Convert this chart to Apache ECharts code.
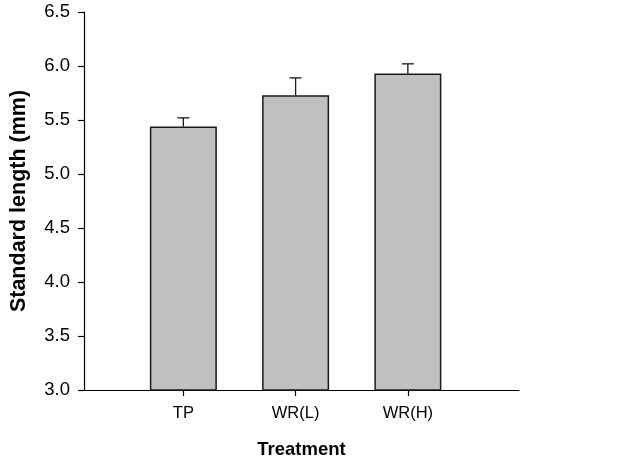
<!DOCTYPE html>
<html>
<head>
<meta charset="utf-8">
<script src="https://cdn.jsdelivr.net/npm/echarts@6/dist/echarts.min.js"></script>
<style>
html,body{margin:0;padding:0;background:#fff;}
#chart{width:625px;height:467px;}
</style>
</head>
<body>
<div id="chart"></div>
<script>
var categories = ['TP', 'WR(L)', 'WR(H)'];
var positions = [1, 2, 3];
var means = [5.44, 5.73, 5.93];
var errors = [0.08, 0.16, 0.09];
var yTicks = [3.0, 3.5, 4.0, 4.5, 5.0, 5.5, 6.0, 6.5];

var barData = positions.map(function (p, i) { return [p, means[i]]; });
var errData = positions.map(function (p, i) { return [p, means[i], means[i] + errors[i]]; });

var chart = echarts.init(document.getElementById('chart'), null, {renderer: 'canvas'});
var font = '"Liberation Sans", Arial, sans-serif';
chart.setOption({
  animation: false,
  backgroundColor: '#fff',
  grid: {left: 81, top: 12, right: 106, bottom: 77},
  xAxis: {
    type: 'value',
    min: 0.115,
    max: 3.99,
    splitLine: {show: false},
    axisLine: {show: true, lineStyle: {color: '#000', width: 1.2}},
    axisTick: {show: true, length: 6, customValues: positions, lineStyle: {color: '#000', width: 1.2}},
    axisLabel: {
      customValues: positions,
      margin: 15,
      fontFamily: font, fontSize: 16.5, color: '#000',
      formatter: function (v) { var i = positions.indexOf(Math.round(v)); return i >= 0 ? categories[i] : ''; }
    },
    name: 'Treatment',
    nameLocation: 'middle',
    nameGap: 50,
    nameTextStyle: {fontFamily: font, fontSize: 18.5, fontWeight: 'bold', color: '#000'}
  },
  yAxis: {
    type: 'value',
    min: 3.0,
    max: 6.5,
    interval: 0.5,
    splitLine: {show: false},
    axisLine: {show: true, lineStyle: {color: '#000', width: 1.2}},
    axisTick: {show: true, length: 6, lineStyle: {color: '#000', width: 1.2}},
    axisLabel: {
      margin: 14,
      fontFamily: font, fontSize: 18.5, color: '#000',
      formatter: function (v) { return Number(v).toFixed(1); }
    },
    name: 'Standard length (mm)',
    nameLocation: 'middle',
    nameGap: 54,
    nameRotate: 90,
    nameTextStyle: {fontFamily: font, fontSize: 21.5, fontWeight: 'bold', color: '#000'}
  },
  series: [
    {
      type: 'bar',
      data: barData,
      barWidth: 67,
      itemStyle: {color: '#c0c0c0', borderColor: '#1a1a1a', borderWidth: 1.5},
      z: 2
    },
    {
      type: 'custom',
      data: errData,
      z: 3,
      renderItem: function (params, api) {
        var x = api.value(0);
        var lo = api.coord([x, api.value(1)]);
        var hi = api.coord([x, api.value(2)]);
        var half = 6;
        var style = {stroke: '#1a1a1a', lineWidth: 1.3, fill: null};
        return {
          type: 'group',
          children: [
            {type: 'line', shape: {x1: lo[0], y1: lo[1], x2: hi[0], y2: hi[1]}, style: style},
            {type: 'line', shape: {x1: hi[0] - half, y1: hi[1], x2: hi[0] + half, y2: hi[1]}, style: style}
          ]
        };
      }
    }
  ]
});
</script>
</body>
</html>
